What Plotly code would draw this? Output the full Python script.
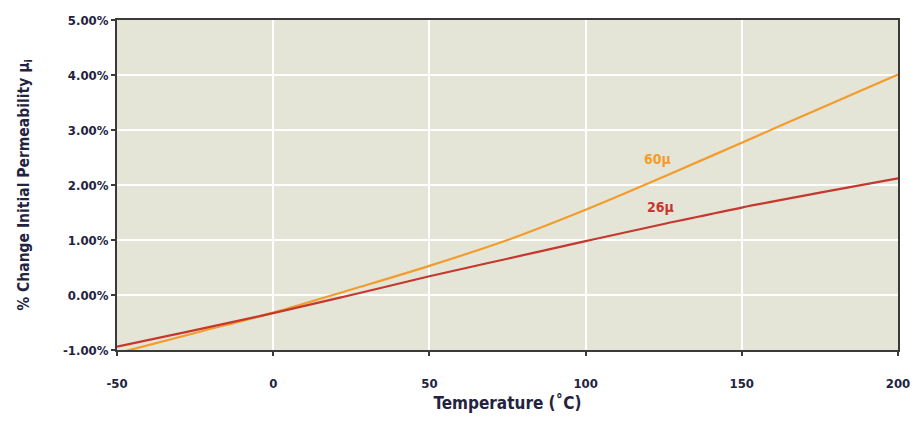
import plotly.graph_objects as go

# Temperature points (°C) and % change in initial permeability for each material grade
temperature = [-50, -25, 0, 25, 50, 75, 100, 125, 150, 175, 200]
perm_60u = [-1.06, -0.69, -0.32, 0.10, 0.53, 1.00, 1.55, 2.15, 2.77, 3.39, 4.01]
perm_26u = [-0.94, -0.64, -0.33, 0.00, 0.34, 0.66, 0.98, 1.29, 1.59, 1.86, 2.12]

x_ticks = [-50, 0, 50, 100, 150, 200]
x_tick_text = ["-50", "0", "50", "100", "150", "200"]
y_ticks = [-1, 0, 1, 2, 3, 4, 5]
y_tick_text = ["-1.00%", "0.00%", "1.00%", "2.00%", "3.00%", "4.00%", "5.00%"]

FONT = "DejaVu Sans Condensed, Liberation Sans Narrow, sans-serif"
TEXT = "#23233f"
ORANGE = "#f39c2c"
RED = "#c6372d"

fig = go.Figure()
fig.add_trace(go.Scatter(x=temperature, y=perm_60u, mode="lines", line=dict(color=ORANGE, width=2.2, shape="spline"), name="60μ"))
fig.add_trace(go.Scatter(x=temperature, y=perm_26u, mode="lines", line=dict(color=RED, width=2.2, shape="spline"), name="26μ"))

fig.add_annotation(x=123, y=2.47, text="60μ", showarrow=False,
                   font=dict(family=FONT, size=14, color=ORANGE, weight="bold"))
fig.add_annotation(x=124, y=1.6, text="26μ", showarrow=False,
                   font=dict(family=FONT, size=14, color=RED, weight="bold"))

tick_font = dict(family=FONT, size=13, color=TEXT, weight="bold")
axis_common = dict(
    showline=True, linecolor="#3a3a3a", linewidth=2, mirror=True,
    ticks="outside", ticklen=4, tickwidth=2, tickcolor="#3a3a3a",
    showgrid=True, gridcolor="#ffffff", gridwidth=2, zeroline=False,
    tickfont=tick_font,
)

fig.update_layout(
    width=923, height=421,
    margin=dict(l=117, r=25, t=20, b=71),
    paper_bgcolor="#ffffff", plot_bgcolor="#e4e5d7",
    showlegend=False,
    font=dict(family=FONT, color=TEXT),
    xaxis=dict(range=[-50, 200], tickvals=x_ticks, ticktext=x_tick_text,
               ticklabelstandoff=16,
               title=dict(text="Temperature (˚C)", standoff=8,
                          font=dict(family=FONT, size=17, color=TEXT, weight="bold")),
               **axis_common),
    yaxis=dict(range=[-1, 5], tickvals=y_ticks, ticktext=y_tick_text,
               title=dict(text="% Change Initial Permeability μ<sub>i</sub>", standoff=30,
                          font=dict(family=FONT, size=15.5, color=TEXT, weight="bold")),
               **axis_common),
)

fig.write_html("out.html")
